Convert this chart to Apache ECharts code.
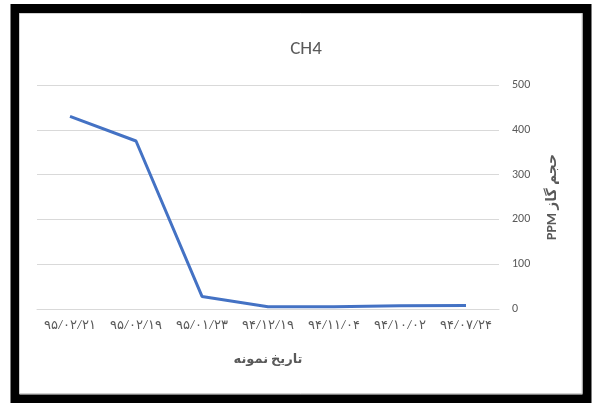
<!DOCTYPE html>
<html>
<head>
<meta charset="utf-8">
<script src="https://cdn.jsdelivr.net/npm/echarts@6/dist/echarts.min.js"></script>
<style>
  html, body { margin: 0; padding: 0; background: #fff; }
  #chart { width: 592px; height: 403px; }
</style>
</head>
<body>
<div id="chart"></div>
<script>
// Sample dates (Persian calendar), newest first
const sampleDates = ['۹۵/۰۲/۲۱', '۹۵/۰۲/۱۹', '۹۵/۰۱/۲۳', '۹۴/۱۲/۱۹', '۹۴/۱۱/۰۴', '۹۴/۱۰/۰۲', '۹۴/۰۷/۲۴'];
// CH4 gas volume in PPM
const ch4Values = [430, 375, 28, 5, 5, 7, 8];
const yTicks = { min: 0, max: 500, interval: 100 };

const textColor = '#595959';
const fontStack = 'Calibri, Carlito, "Open Sans", "DejaVu Sans", sans-serif';

const chart = echarts.init(document.getElementById('chart'), null, { renderer: 'canvas' });
chart.setOption({
  backgroundColor: '#ffffff',
  animation: false,
  graphic: [
    {
      type: 'rect',
      silent: true,
      z: 100,
      shape: { x: 15, y: 8.5, width: 572, height: 390.5 },
      style: { fill: 'none', stroke: '#000', lineWidth: 9 }
    },
    {
      type: 'rect',
      silent: true,
      z: 100,
      shape: { x: 19.5, y: 13.5, width: 562.5, height: 380 },
      style: { fill: 'none', stroke: '#d0d0d0', lineWidth: 1 }
    }
  ],
  title: {
    text: 'CH4',
    left: 301,
    top: 35,
    textAlign: 'center',
    textStyle: { color: textColor, fontSize: 19, fontWeight: 'normal', fontFamily: fontStack }
  },
  grid: { left: 37, right: 93, top: 85, bottom: 94 },
  xAxis: {
    type: 'category',
    data: sampleDates,
    boundaryGap: true,
    name: 'تاریخ نمونه',
    nameLocation: 'middle',
    nameGap: 44,
    nameTextStyle: { color: textColor, fontSize: 13, fontWeight: 'bold', fontFamily: fontStack },
    axisLine: { show: true, lineStyle: { color: '#d9d9d9', width: 1 } },
    axisTick: { show: false },
    axisLabel: { color: textColor, fontSize: 13, margin: 10, fontFamily: fontStack, interval: 0 },
    splitLine: { show: false }
  },
  yAxis: {
    type: 'value',
    position: 'right',
    min: yTicks.min,
    max: yTicks.max,
    interval: yTicks.interval,
    name: 'PPM حجم گاز',
    nameLocation: 'middle',
    nameRotate: 90,
    nameGap: 46,
    nameTextStyle: { color: textColor, fontSize: 14, fontWeight: 'bold', fontFamily: fontStack },
    axisLine: { show: false },
    axisTick: { show: false },
    axisLabel: { color: textColor, fontSize: 12, margin: 13, fontFamily: fontStack },
    splitLine: { show: true, lineStyle: { color: '#d9d9d9', width: 1 } }
  },
  series: [{
    type: 'line',
    data: ch4Values,
    symbol: 'none',
    lineStyle: { color: '#4472C4', width: 3 },
    itemStyle: { color: '#4472C4' }
  }]
});
</script>
</body>
</html>
